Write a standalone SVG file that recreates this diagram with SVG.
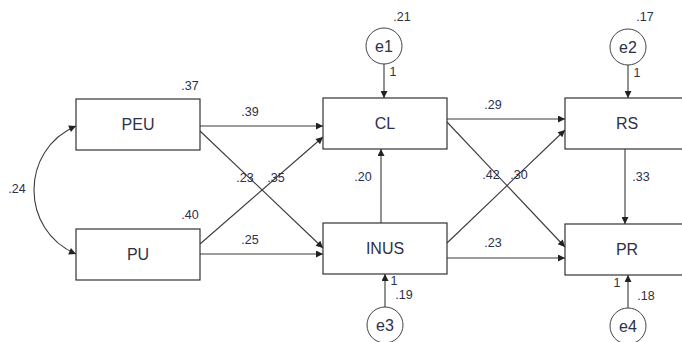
<svg xmlns="http://www.w3.org/2000/svg" width="682" height="342" viewBox="0 0 682 342">
<defs>
<marker id="ah" viewBox="0 0 10 10" refX="10" refY="5" markerWidth="9" markerHeight="7" markerUnits="userSpaceOnUse" orient="auto-start-reverse">
<path d="M0,0 L10,5 L0,10 Z" fill="#222"/>
</marker>
</defs>
<style>
.box{fill:#fff;stroke:#333;stroke-width:1.2}
.circ{fill:#fff;stroke:#444;stroke-width:1}
.lbl{font-family:"Liberation Sans",Arial,sans-serif;font-size:16px;fill:#2e3048;text-anchor:middle}
.num{font-family:"Liberation Sans",Arial,sans-serif;font-size:12.5px;fill:#2e3048}
.c{text-anchor:middle}
.ln{stroke:#3a3a3a;stroke-width:1.1;fill:none;marker-end:url(#ah)}
</style>
<rect width="682" height="342" fill="#fff"/>
<g id="connectors">
<path class="ln" d="M200,126 L323,126"/>
<path class="ln" d="M200,131 L323,248"/>
<path class="ln" d="M200,244 L323,137"/>
<path class="ln" d="M200,254 L323,254"/>
<path class="ln" d="M381,223 L381,149"/>
<path class="ln" d="M447,119 L565,119"/>
<path class="ln" d="M447,122 L565,247"/>
<path class="ln" d="M447,243 L565,130"/>
<path class="ln" d="M447,258 L565,258"/>
<path class="ln" d="M625,149 L625,224"/>
<path class="ln" d="M384,64 L384,98"/>
<path class="ln" d="M628,65 L628,98"/>
<path class="ln" d="M385,307 L385,274"/>
<path class="ln" d="M628,308 L628,275"/>
<path class="ln" d="M76,126 C20,150 20,230 76,254" marker-start="url(#ah)"/>
<text class="num c" x="250" y="116">.39</text>
<text class="num c" x="245" y="182">.23</text>
<text class="num c" x="276" y="182">.35</text>
<text class="num c" x="250" y="244">.25</text>
<text class="num c" x="363" y="181">.20</text>
<text class="num c" x="493" y="109">.29</text>
<text class="num c" x="491" y="179">.42</text>
<text class="num c" x="519" y="179">.30</text>
<text class="num c" x="493" y="247">.23</text>
<text class="num c" x="641" y="181">.33</text>
<text class="num c" x="17" y="193">.24</text>
</g>
<g id="PEU"><rect class="box" x="76" y="99" width="124" height="51"/><text class="lbl" x="138" y="130">PEU</text><text class="num c" x="190" y="90">.37</text></g>
<g id="PU"><rect class="box" x="76" y="229" width="124" height="51"/><text class="lbl" x="138" y="260">PU</text><text class="num c" x="190" y="219">.40</text></g>
<g id="CL"><rect class="box" x="323" y="98" width="124" height="51"/><text class="lbl" x="385" y="129">CL</text></g>
<g id="INUS"><rect class="box" x="323" y="223" width="124" height="51"/><text class="lbl" x="385" y="254">INUS</text></g>
<g id="RS"><rect class="box" x="565" y="98" width="124" height="51"/><text class="lbl" x="627" y="129">RS</text></g>
<g id="PR"><rect class="box" x="565" y="224" width="124" height="51"/><text class="lbl" x="627" y="255">PR</text></g>
<g id="e1"><circle class="circ" cx="384" cy="46" r="18"/><text class="lbl" x="384" y="52">e1</text><text class="num c" x="402" y="21">.21</text><text class="num c" x="393" y="76">1</text></g>
<g id="e2"><circle class="circ" cx="628" cy="47" r="18"/><text class="lbl" x="628" y="53">e2</text><text class="num c" x="645" y="21">.17</text><text class="num c" x="637" y="77">1</text></g>
<g id="e3"><circle class="circ" cx="385" cy="325" r="18"/><text class="lbl" x="385" y="331">e3</text><text class="num c" x="394" y="285">1</text><text class="num c" x="404" y="299">.19</text></g>
<g id="e4"><circle class="circ" cx="628" cy="326" r="18"/><text class="lbl" x="628" y="332">e4</text><text class="num c" x="617" y="287">1</text><text class="num c" x="646" y="300">.18</text></g>
</svg>
